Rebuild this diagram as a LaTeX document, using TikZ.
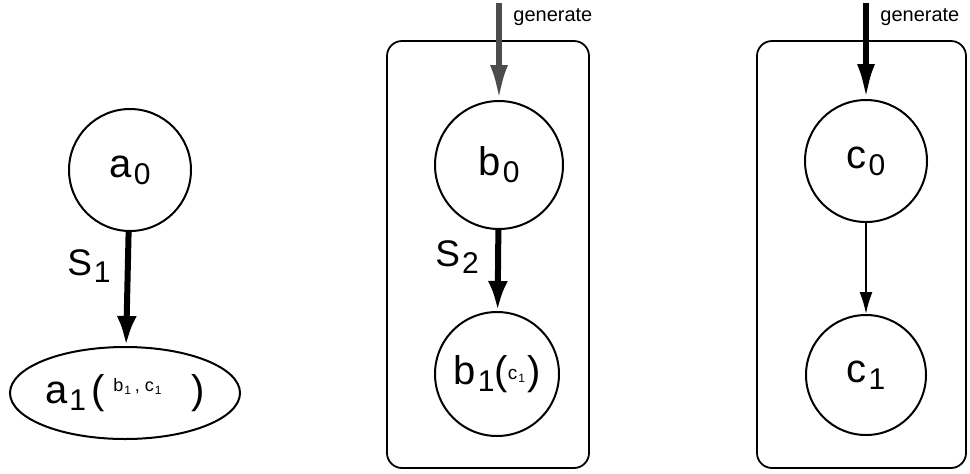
\documentclass[tikz,border=0pt]{standalone}
\usepackage{fontspec}
\setmainfont{Liberation Sans}
\usetikzlibrary{arrows.meta, positioning, shapes.geometric}

% letter with a lowered index, and the small raised context list
\newcommand{\idx}[2]{#1\kern1pt\raisebox{-3.5pt}{\fontsize{15}{15}\selectfont #2}}
\newcommand{\ctx}[2]{#1\kern0.5pt\raisebox{-1.5pt}{\fontsize{6}{6}\selectfont #2}}

\begin{document}
\begin{tikzpicture}[
  x=0.5pt, y=-0.5pt,
  font=\fontsize{20}{20}\selectfont,
  >=Latex,
  state/.style={draw, circle, line width=1pt, inner sep=0pt, minimum size=#1},
  state/.default=62pt,
  frame/.style={draw, rounded corners=7.5pt, line width=0.9pt,
                minimum height=213.5pt, inner sep=0pt},
  strong/.style={->, line width=3pt, >={Latex[length=15pt,width=10pt]}},
  weak/.style={->, line width=1pt, >={Latex[length=11pt,width=6.5pt]}},
  gen/.style={->, line width=2.8pt, draw=#1, >={Latex[length=17.5pt,width=9pt]}},
  gen/.default=black,
  genlbl/.style={anchor=west, font=\fontsize{10}{10}\selectfont, inner sep=0pt},
  slbl/.style={font=\fontsize{18.5}{18.5}\selectfont, inner sep=0pt},
]
  \useasboundingbox (0,0) rectangle (970,473);

  % left chain
  \node[state=61pt] (a0) at (130,170) {\idx{a}{0}};
  \node[draw, ellipse, line width=1pt, inner sep=0pt,
        minimum width=115pt, minimum height=46pt] (a1) at (125,393)
        {\idx{a}{1}\kern3pt(\kern4pt\raisebox{6pt}{\fontsize{9}{9}\selectfont
         \ctx{b}{1}\kern2pt, \ctx{c}{1}}\kern15pt)};
  \draw[strong] (a0) -- (a1);
  \node[slbl] (s1) at (89,266) {\idx{S}{1}};

  % middle chain
  \node[frame, minimum width=101pt] (fb) at (488,254.5) {};
  \node[state=64pt] (b0) at (499,165) {\idx{b}{0}};
  \node[state=62pt] (b1) at (497,374)
        {\idx{b}{1}(\raisebox{2.5pt}{\fontsize{9.5}{9.5}\selectfont\ctx{c}{1}}\kern1pt)};
  \draw[strong] (b0) -- (b1);
  \node[slbl] (s2) at (457,257) {\idx{S}{2}};
  \coordinate (gb) at (b0.north |- 0,3);
  \draw[gen=black!70] (gb) -- (b0);
  \node[genlbl] (gbl) at (513,17) {generate};

  % right chain
  \node[frame, minimum width=104.5pt] (fc) at (861.5,254.5) {};
  \node[state=61pt] (c0) at (866,161) {\idx{c}{0}};
  \node[state=60pt] (c1) at (866,375) {\idx{c}{1}};
  \draw[weak] (c0) -- (c1);
  \coordinate (gc) at (c0.north |- 0,3);
  \draw[gen] (gc) -- (c0);
  \node[genlbl] (gcl) at (880,17) {generate};
\end{tikzpicture}
\end{document}
